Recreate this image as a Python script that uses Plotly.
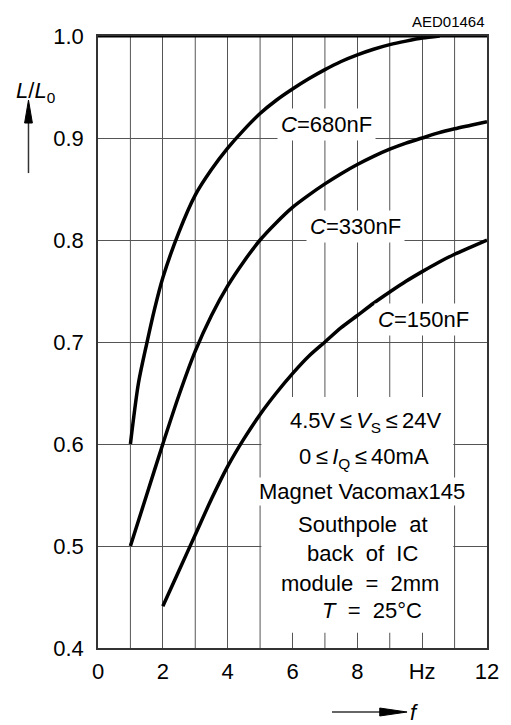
import plotly.graph_objects as go

# Data
x_680 = [1, 1.25, 1.5, 1.75, 2, 2.5, 3, 3.5, 4, 4.5, 5, 5.5, 6, 6.5, 7, 7.5, 8, 8.5, 9, 9.5, 10, 10.54]
y_680 = [0.6, 0.66, 0.698, 0.733, 0.763, 0.808, 0.844, 0.869, 0.89, 0.908, 0.924, 0.937, 0.948, 0.958, 0.967, 0.975, 0.9815, 0.987, 0.9915, 0.995, 0.998, 1.0]

x_330 = [1, 1.5, 2, 2.5, 3, 3.5, 4, 4.5, 5, 5.5, 6, 6.5, 7, 7.5, 8, 8.5, 9, 9.5, 10, 10.5, 11, 11.5, 12]
y_330 = [0.5, 0.55, 0.6, 0.648, 0.691, 0.726, 0.755, 0.779, 0.800, 0.817, 0.832, 0.844, 0.855, 0.865, 0.874, 0.882, 0.889, 0.895, 0.90, 0.905, 0.909, 0.9125, 0.916]

x_150 = [2, 2.5, 3, 3.5, 4, 4.5, 5, 5.5, 6, 6.5, 7, 7.5, 8, 8.5, 9, 9.5, 10, 10.5, 11, 11.5, 12]
y_150 = [0.441, 0.476, 0.511, 0.546, 0.578, 0.605, 0.629, 0.650, 0.669, 0.686, 0.70, 0.714, 0.726, 0.738, 0.749, 0.7595, 0.769, 0.778, 0.786, 0.793, 0.80]

x_tickvals = [0, 2, 4, 6, 8, 10, 12]
x_ticktext = ["0", "2", "4", "6", "8", "Hz", "12"]
y_tickvals = [0.4, 0.5, 0.6, 0.7, 0.8, 0.9, 1.0]
y_ticktext = ["0.4", "0.5", "0.6", "0.7", "0.8", "0.9", "1.0"]

curve_labels = [
    ("<i>C</i>=680nF", 7.04, 0.9137),
    ("<i>C</i>=330nF", 7.94, 0.813),
    ("<i>C</i>=150nF", 10.05, 0.7216),
]

cond_lines = [
    ("4.5V\u2009\u2264\u2009<i>V</i><sub>S</sub>\u2009\u2264\u200924V", 8.24, 0.622),
    ("0\u2009\u2264\u2009<i>I</i><sub>Q</sub>\u2009\u2264\u200940mA", 8.22, 0.586),
    ("Magnet Vacomax145", 8.15, 0.553),
    ("Southpole\u00a0 at", 8.18, 0.5206),
    ("back\u00a0 of\u00a0 IC", 8.15, 0.493),
    ("module\u00a0 =\u00a0 2mm", 8.09, 0.4637),
    ("<i>T</i>\u00a0\u00a0=\u00a0\u00a025\u00b0C", 8.44, 0.437),
]

FONT = "Liberation Sans"

fig = go.Figure()
for xs, ys in [(x_680, y_680), (x_330, y_330), (x_150, y_150)]:
    fig.add_trace(go.Scatter(x=xs, y=ys, mode="lines",
                             line=dict(color="black", width=3.5, shape="spline", smoothing=0.8),
                             showlegend=False, hoverinfo="skip"))

fig.update_layout(
    width=511, height=725,
    margin=dict(l=98, r=14, t=36, b=77),
    paper_bgcolor="white", plot_bgcolor="white",
    font=dict(family=FONT, color="black", size=22),
    xaxis=dict(range=[0, 12], tickvals=x_tickvals, ticktext=x_ticktext,
               showgrid=True, gridcolor="#555", gridwidth=1,
               tickmode="array", showline=True, linecolor="#333", linewidth=1.5,
               mirror=True, zeroline=False, ticks="", ticklabelstandoff=3,
               tickfont=dict(family=FONT, size=22)),
    yaxis=dict(range=[0.4, 1.0], tickvals=y_tickvals, ticktext=y_ticktext,
               showgrid=True, gridcolor="#555", gridwidth=1,
               showline=True, linecolor="#333", linewidth=1.5, mirror=True,
               zeroline=False, ticks="", ticklabelstandoff=8,
               tickfont=dict(family=FONT, size=22)),
)

shapes = []
# vertical gridlines at odd units (not tick-labelled)
for xv in range(1, 12, 2):
    shapes.append(dict(type="line", xref="x", yref="y", x0=xv, x1=xv, y0=0.4, y1=1.0,
                       line=dict(color="#555", width=1), layer="between"))
# white box behind conditions text (above gridlines, below traces)
shapes.append(dict(type="rect", xref="x", yref="y", x0=5.04, x1=10.96, y0=0.415, y1=0.646,
                   fillcolor="white", line=dict(width=0), layer="between"))
# thick top border
shapes.append(dict(type="line", xref="x", yref="y", x0=0, x1=12, y0=1.0, y1=1.0,
                   line=dict(color="black", width=3), layer="above"))

# y-axis arrow
ya_x = -0.1787
shapes.append(dict(type="line", xref="paper", yref="paper", x0=ya_x, x1=ya_x, y0=0.776, y1=0.86,
                   line=dict(color="#333", width=1.5)))
shapes.append(dict(type="path", xref="paper", yref="paper",
                   path=f"M {ya_x-0.010},0.8578 L {ya_x},0.8954 L {ya_x+0.010},0.8578 Z",
                   fillcolor="black", line=dict(color="black", width=1)))
# x-axis arrow
xa_y = -0.1046
shapes.append(dict(type="line", xref="paper", yref="paper", x0=0.6015, x1=0.73, y0=xa_y, y1=xa_y,
                   line=dict(color="#333", width=1.5)))
shapes.append(dict(type="path", xref="paper", yref="paper",
                   path=f"M 0.7243,{xa_y-0.0065} L 0.7945,{xa_y} L 0.7243,{xa_y+0.0065} Z",
                   fillcolor="black", line=dict(color="black", width=1)))
fig.update_layout(shapes=shapes)

ann = []
for t, xv, yv in curve_labels:
    ann.append(dict(text=t, x=xv, y=yv, xref="x", yref="y", showarrow=False,
                    font=dict(size=22, family=FONT), bgcolor="white", borderpad=3))
for t, xv, yv in cond_lines:
    ann.append(dict(text=t, x=xv, y=yv, xref="x", yref="y", showarrow=False,
                    font=dict(size=22, family=FONT),
                    bgcolor="white" if t.startswith("Magnet") else None, borderpad=1))
# y-axis label
ann.append(dict(text="<i>L</i>/<i>L</i><sub>0</sub>", x=-0.1604, y=0.908, xref="paper", yref="paper",
                xanchor="center", yanchor="middle",
                showarrow=False, font=dict(size=22, family=FONT)))
# x-axis label
ann.append(dict(text="<i>f</i>", x=0.797, y=xa_y, xref="paper", yref="paper",
                xanchor="left", yanchor="middle", showarrow=False, font=dict(size=22, family=FONT)))
# drawing number
ann.append(dict(text="AED01464", x=1.0, y=1.0237, xref="paper", yref="paper",
                xanchor="right", yanchor="middle", showarrow=False, font=dict(size=15, family=FONT)))
fig.update_layout(annotations=ann)

fig.write_html("out.html")
